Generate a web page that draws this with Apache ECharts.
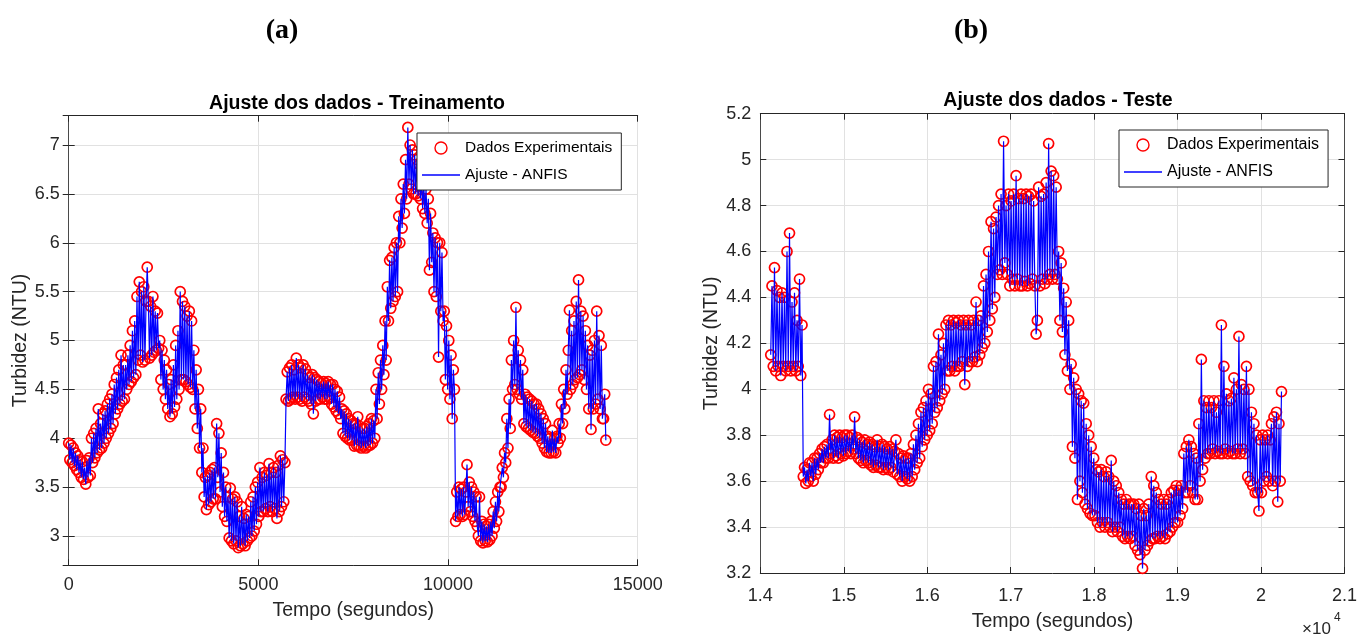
<!DOCTYPE html>
<html>
<head>
<meta charset="utf-8">
<script src="https://cdn.jsdelivr.net/npm/echarts@6/dist/echarts.min.js"></script>
<style>
html,body{margin:0;padding:0;background:#fff;}
#chart{width:1360px;height:637px;}
</style>
</head>
<body>
<div id="chart"></div>
<script>
// ---------------- DATA ----------------
// (a) Treinamento: turbidity samples (NTU), one every TRAIN_STEP seconds from TRAIN_T0
const TRAIN_T0 = 0;
const TRAIN_STEP = 30;
const trainTurb = [
  /*    0 */ 3.95, 3.78, 3.93, 3.75, 3.90, 3.72, 3.85, 3.68, 3.82, 3.65,
  /*  300 */ 3.78, 3.60, 3.76, 3.58, 3.70, 3.53, 3.77, 3.60, 3.80, 3.62,
  /*  600 */ 4.00, 3.75, 4.05, 3.80, 4.10, 3.85, 4.30, 3.88, 4.15, 3.90,
  /*  900 */ 4.25, 3.95, 4.28, 4.00, 4.35, 4.05, 4.40, 4.10, 4.45, 4.15,
  /* 1200 */ 4.55, 4.25, 4.62, 4.30, 4.70, 4.35, 4.85, 4.38, 4.75, 4.40,
  /* 1500 */ 4.75, 4.50, 4.85, 4.55, 4.95, 4.58, 5.10, 4.62, 5.20, 4.65,
  /* 1800 */ 5.45, 4.80, 5.60, 4.85, 5.50, 4.78, 5.55, 4.80, 5.40, 5.75,
  /* 2100 */ 5.40, 4.82, 5.35, 4.85, 5.45, 4.88, 5.30, 4.90, 5.28, 4.92,
  /* 2400 */ 5.00, 4.60, 4.90, 4.50, 4.80, 4.40, 4.70, 4.30, 4.55, 4.22,
  /* 2700 */ 4.60, 4.25, 4.75, 4.32, 4.95, 4.40, 5.10, 4.50, 5.50, 4.60,
  /* 3000 */ 5.40, 4.60, 5.35, 4.58, 5.25, 4.55, 5.30, 4.52, 5.20, 4.50,
  /* 3300 */ 4.90, 4.30, 4.70, 4.10, 4.50, 3.90, 4.30, 3.65, 3.90, 3.40,
  /* 3600 */ 3.60, 3.27, 3.62, 3.32, 3.65, 3.35, 3.68, 3.38, 3.70, 3.38,
  /* 3900 */ 4.15, 3.60, 4.05, 3.45, 3.85, 3.30, 3.65, 3.20, 3.50, 3.15,
  /* 4200 */ 3.40, 2.98, 3.49, 2.95, 3.38, 2.92, 3.40, 2.95, 3.35, 2.88,
  /* 4500 */ 3.20, 2.90, 3.30, 2.92, 3.18, 2.90, 3.22, 2.95, 3.20, 2.98,
  /* 4800 */ 3.35, 3.00, 3.40, 3.05, 3.50, 3.12, 3.55, 3.20, 3.70, 3.25,
  /* 5100 */ 3.60, 3.25, 3.65, 3.28, 3.62, 3.25, 3.74, 3.30, 3.65, 3.25,
  /* 5400 */ 3.70, 3.28, 3.65, 3.18, 3.72, 3.25, 3.82, 3.30, 3.78, 3.35,
  /* 5700 */ 3.75, 4.40, 4.68, 4.38, 4.72, 4.40, 4.75, 4.42, 4.70, 4.40,
  /* 6000 */ 4.82, 4.42, 4.75, 4.40, 4.72, 4.38, 4.75, 4.42, 4.71, 4.40,
  /* 6300 */ 4.65, 4.38, 4.62, 4.35, 4.65, 4.25, 4.62, 4.38, 4.60, 4.40,
  /* 6600 */ 4.58, 4.40, 4.56, 4.42, 4.58, 4.40, 4.56, 4.40, 4.58, 4.42,
  /* 6900 */ 4.55, 4.35, 4.55, 4.32, 4.50, 4.28, 4.48, 4.25, 4.42, 4.20,
  /* 7200 */ 4.30, 4.05, 4.28, 4.02, 4.25, 4.00, 4.20, 3.98, 4.18, 3.98,
  /* 7500 */ 4.15, 3.92, 4.15, 3.93, 4.22, 3.92, 4.12, 3.90, 4.10, 3.92,
  /* 7800 */ 4.10, 3.90, 4.12, 3.92, 4.15, 3.93, 4.20, 3.95, 4.18, 4.00,
  /* 8100 */ 4.50, 4.20, 4.67, 4.35, 4.80, 4.50, 4.95, 4.65, 5.20, 4.80,
  /* 8400 */ 5.55, 5.20, 5.82, 5.33, 5.85, 5.40, 5.95, 5.45, 6.00, 5.50,
  /* 8700 */ 6.27, 6.00, 6.45, 6.15, 6.60, 6.30, 6.85, 6.45, 7.18, 6.60,
  /* 9000 */ 7.00, 6.55, 6.95, 6.50, 6.90, 6.50, 6.85, 6.48, 6.80, 6.45,
  /* 9300 */ 6.65, 6.35, 6.60, 6.30, 6.55, 6.20, 6.45, 5.72, 6.30, 5.80,
  /* 9600 */ 6.10, 5.50, 6.05, 5.45, 6.00, 4.83, 6.00, 5.30, 5.90, 5.20,
  /* 9900 */ 5.30, 4.60, 5.15, 4.50, 5.00, 4.40, 4.85, 4.20, 4.70, 4.50,
  /*10200 */ 3.15, 3.45, 3.20, 3.50, 3.22, 3.48, 3.20, 3.50, 3.22, 3.45,
  /*10500 */ 3.73, 3.30, 3.55, 3.25, 3.50, 3.20, 3.45, 3.15, 3.40, 3.10,
  /*10800 */ 3.00, 3.40, 2.95, 3.15, 2.93, 3.12, 2.95, 3.10, 2.94, 3.12,
  /*11100 */ 2.96, 3.15, 3.00, 3.25, 3.08, 3.35, 3.15, 3.45, 3.25, 3.50,
  /*11400 */ 3.50, 3.70, 3.60, 3.85, 3.75, 4.20, 3.90, 4.40, 4.10, 4.80,
  /*11700 */ 4.50, 5.00, 4.55, 5.34, 4.50, 4.90, 4.45, 4.80, 4.40, 4.70,
  /*12000 */ 4.15, 4.45, 4.12, 4.42, 4.10, 4.40, 4.08, 4.38, 4.06, 4.35,
  /*12300 */ 4.05, 4.35, 4.02, 4.30, 4.00, 4.25, 3.95, 4.20, 3.90, 4.15,
  /*12600 */ 3.86, 4.02, 3.85, 4.00, 3.85, 4.08, 3.86, 4.00, 3.85, 4.02,
  /*12900 */ 3.95, 4.15, 4.00, 4.35, 4.15, 4.50, 4.30, 4.70, 4.45, 4.90,
  /*13200 */ 5.31, 4.50, 5.10, 4.55, 5.20, 4.60, 5.40, 4.62, 5.62, 4.65,
  /*13500 */ 5.30, 4.70, 5.25, 4.60, 5.10, 4.50, 4.95, 4.30, 4.85, 4.09,
  /*13800 */ 4.90, 4.30, 5.00, 4.35, 5.30, 4.40, 5.05, 4.30, 4.95, 4.20,
  /*14100 */ 4.20, 4.45, 3.98
];
// ANFIS fit output: follows the training samples almost exactly
const trainFit = trainTurb.slice();

// (b) Teste: turbidity samples (NTU), one every TEST_STEP seconds from TEST_T0
const TEST_T0 = 14125;
const TEST_STEP = 15;
const testTurb = [
  /* 14125 */ 4.15, 4.45, 4.10, 4.53, 4.08, 4.43, 4.10, 4.40, 4.06, 4.42,
  /* 14275 */ 4.10, 4.40, 4.08, 4.60, 4.10, 4.68, 4.08, 4.38, 4.10, 4.42,
  /* 14425 */ 4.08, 4.30, 4.10, 4.48, 4.06, 4.28, 3.62, 3.66, 3.59, 3.65,
  /* 14575 */ 3.60, 3.68, 3.62, 3.68, 3.60, 3.70, 3.63, 3.70, 3.65, 3.72,
  /* 14725 */ 3.68, 3.74, 3.68, 3.75, 3.70, 3.76, 3.70, 3.89, 3.72, 3.78,
  /* 14875 */ 3.70, 3.80, 3.71, 3.79, 3.70, 3.80, 3.72, 3.79, 3.71, 3.80,
  /* 15025 */ 3.72, 3.80, 3.73, 3.79, 3.72, 3.80, 3.74, 3.88, 3.72, 3.79,
  /* 15175 */ 3.70, 3.78, 3.69, 3.77, 3.68, 3.78, 3.69, 3.76, 3.68, 3.77,
  /* 15325 */ 3.67, 3.76, 3.66, 3.75, 3.67, 3.78, 3.66, 3.75, 3.66, 3.76,
  /* 15475 */ 3.65, 3.75, 3.66, 3.74, 3.65, 3.75, 3.66, 3.74, 3.64, 3.73,
  /* 15625 */ 3.78, 3.63, 3.72, 3.62, 3.70, 3.60, 3.71, 3.62, 3.70, 3.61,
  /* 15775 */ 3.70, 3.60, 3.72, 3.62, 3.76, 3.65, 3.80, 3.68, 3.85, 3.70,
  /* 15925 */ 3.90, 3.75, 3.92, 3.78, 3.95, 3.80, 4.00, 3.82, 3.98, 3.85,
  /* 16075 */ 4.10, 3.90, 4.12, 3.92, 4.24, 3.95, 4.15, 3.98, 4.20, 4.00,
  /* 16225 */ 4.28, 4.08, 4.30, 4.08, 4.28, 4.10, 4.30, 4.08, 4.29, 4.10,
  /* 16375 */ 4.30, 4.10, 4.28, 4.12, 4.30, 4.02, 4.28, 4.10, 4.30, 4.12,
  /* 16525 */ 4.28, 4.12, 4.30, 4.14, 4.38, 4.12, 4.30, 4.15, 4.32, 4.18,
  /* 16675 */ 4.45, 4.20, 4.50, 4.25, 4.60, 4.30, 4.73, 4.35, 4.70, 4.40,
  /* 16825 */ 4.75, 4.50, 4.80, 4.52, 4.85, 4.50, 5.08, 4.55, 4.80, 4.50,
  /* 16975 */ 4.85, 4.45, 4.82, 4.48, 4.85, 4.45, 4.93, 4.48, 4.83, 4.45,
  /* 17125 */ 4.85, 4.45, 4.83, 4.47, 4.85, 4.45, 4.84, 4.46, 4.85, 4.48,
  /* 17275 */ 4.82, 4.45, 4.24, 4.30, 4.88, 4.45, 4.84, 4.48, 4.85, 4.46,
  /* 17425 */ 4.90, 4.48, 5.07, 4.50, 4.95, 4.48, 4.93, 4.50, 4.88, 4.48,
  /* 17575 */ 4.60, 4.30, 4.55, 4.25, 4.44, 4.15, 4.38, 4.08, 4.30, 4.00,
  /* 17725 */ 4.11, 3.75, 4.05, 3.70, 4.00, 3.52, 3.98, 3.60, 3.95, 3.55,
  /* 17875 */ 3.94, 3.50, 3.85, 3.48, 3.80, 3.46, 3.75, 3.45, 3.70, 3.45,
  /* 18025 */ 3.65, 3.42, 3.64, 3.40, 3.65, 3.42, 3.62, 3.40, 3.64, 3.42,
  /* 18175 */ 3.62, 3.40, 3.69, 3.38, 3.60, 3.40, 3.58, 3.38, 3.55, 3.40,
  /* 18325 */ 3.52, 3.36, 3.50, 3.35, 3.52, 3.36, 3.50, 3.35, 3.50, 3.36,
  /* 18475 */ 3.50, 3.32, 3.48, 3.30, 3.50, 3.28, 3.45, 3.22, 3.48, 3.30,
  /* 18625 */ 3.45, 3.32, 3.50, 3.34, 3.62, 3.35, 3.58, 3.35, 3.55, 3.36,
  /* 18775 */ 3.52, 3.35, 3.50, 3.36, 3.52, 3.35, 3.50, 3.37, 3.52, 3.38,
  /* 18925 */ 3.55, 3.40, 3.56, 3.42, 3.58, 3.42, 3.56, 3.45, 3.58, 3.48,
  /* 19075 */ 3.72, 3.55, 3.75, 3.55, 3.78, 3.58, 3.75, 3.55, 3.72, 3.52,
  /* 19225 */ 3.70, 3.52, 3.85, 3.60, 4.13, 3.65, 3.95, 3.70, 3.92, 3.72,
  /* 19375 */ 3.95, 3.72, 3.92, 3.74, 3.95, 3.72, 3.90, 3.73, 3.95, 3.72,
  /* 19525 */ 4.28, 3.72, 4.10, 3.74, 3.98, 3.72, 3.95, 3.73, 3.96, 3.72,
  /* 19675 */ 4.05, 3.72, 4.00, 3.74, 4.23, 3.72, 4.02, 3.74, 4.00, 3.72,
  /* 19825 */ 4.10, 3.62, 4.00, 3.60, 3.90, 3.58, 3.85, 3.55, 3.80, 3.55,
  /* 19975 */ 3.47, 3.78, 3.55, 3.80, 3.60, 3.78, 3.62, 3.80, 3.60, 3.78,
  /* 20125 */ 3.85, 3.58, 3.88, 3.60, 3.90, 3.51, 3.85, 3.60, 3.99
];
// ANFIS fit output on the test set
const testFit = testTurb.slice();

// Axis ranges and tick steps
const trainX = { min: 0, max: 15000, interval: 5000 };
const trainY = { min: 2.7, max: 7.3, splitNumber: 9 };
const testX = { min: 14000, max: 21000, interval: 1000 };
const testY = { min: 3.2, max: 5.2, interval: 0.2 };

const SERIES_DATA = 'Dados Experimentais';
const SERIES_FIT = 'Ajuste - ANFIS';
const TITLE_A = 'Ajuste dos dados - Treinamento';
const TITLE_B = 'Ajuste dos dados - Teste';
const X_NAME = 'Tempo (segundos)';
const Y_NAME = 'Turbidez (NTU)';

// ---------------- CHART ----------------
const FONT = '"Liberation Sans", Arial, Helvetica, sans-serif';
const SERIF = '"Liberation Serif", "Times New Roman", serif';
const AXC = '#262626';
const GRIDC = '#e1e1e1';

function pairs(t0, step, vals) {
  return vals.map((v, i) => [t0 + i * step, v]);
}

const grids = [
  { left: 68.7, top: 115.7, width: 569, height: 449.6 },
  { left: 760.3, top: 113.7, width: 587.4, height: 464.3 }
];

function mainX(gi, ax, fmt, nameGap, margin) {
  return {
    type: 'value', gridIndex: gi, position: 'bottom',
    min: ax.min, max: ax.max, interval: ax.interval,
    name: X_NAME, nameLocation: 'middle', nameGap: nameGap,
    nameTextStyle: { fontFamily: FONT, fontSize: 19.5, color: AXC },
    axisLine: { show: true, lineStyle: { color: AXC, width: 1 } },
    axisTick: { show: true, inside: true, length: 6, lineStyle: { color: AXC } },
    axisLabel: { fontFamily: FONT, fontSize: 18, color: AXC, margin: margin, formatter: fmt },
    splitLine: { show: true, lineStyle: { color: GRIDC, width: 1 } }
  };
}
function topX(gi, ax) {
  return {
    type: 'value', gridIndex: gi, position: 'top',
    min: ax.min, max: ax.max, interval: ax.interval,
    axisLine: { show: true, lineStyle: { color: AXC, width: 1 } },
    axisTick: { show: true, inside: true, length: 6, lineStyle: { color: AXC } },
    axisLabel: { show: false }, splitLine: { show: false }
  };
}
function mainY(gi, ax, fmt, nameGap) {
  const o = {
    type: 'value', gridIndex: gi, position: 'left',
    min: ax.min, max: ax.max,
    name: Y_NAME, nameLocation: 'middle', nameGap: nameGap, nameRotate: 90,
    nameTextStyle: { fontFamily: FONT, fontSize: 19.5, color: AXC },
    axisLine: { show: true, lineStyle: { color: '#4a4a4a', width: 1 } },
    axisTick: { show: true, inside: true, length: 6, lineStyle: { color: AXC } },
    axisLabel: { fontFamily: FONT, fontSize: 18, color: AXC, margin: 9,
      showMinLabel: ax.interval !== undefined, showMaxLabel: ax.interval !== undefined, formatter: fmt },
    splitLine: { show: true, lineStyle: { color: GRIDC, width: 1 } }
  };
  if (ax.interval !== undefined) o.interval = ax.interval; else o.splitNumber = ax.splitNumber;
  return o;
}
function rightY(gi, ax) {
  const o = {
    type: 'value', gridIndex: gi, position: 'right',
    min: ax.min, max: ax.max,
    axisLine: { show: true, lineStyle: { color: '#4a4a4a', width: 1 } },
    axisTick: { show: true, inside: true, length: 6, lineStyle: { color: AXC } },
    axisLabel: { show: false }, splitLine: { show: false }
  };
  if (ax.interval !== undefined) o.interval = ax.interval; else o.splitNumber = ax.splitNumber;
  return o;
}

const fmtPlain = v => String(+v.toFixed(2));
const fmtE4 = v => String(+(v / 10000).toFixed(1));

function dataSeries(xi, yi, d) {
  return {
    name: SERIES_DATA, type: 'scatter', xAxisIndex: xi, yAxisIndex: yi,
    data: d, symbol: 'circle', symbolSize: 10,
    itemStyle: { color: 'rgba(255,255,255,0)', borderColor: '#ff0000', borderWidth: 1.7, opacity: 1 },
    emphasis: { disabled: true }, silent: true, z: 2
  };
}
function fitSeries(xi, yi, d) {
  return {
    name: SERIES_FIT, type: 'line', xAxisIndex: xi, yAxisIndex: yi,
    data: d, showSymbol: false, symbol: 'none',
    lineStyle: { color: '#0000ff', width: 1.2 },
    itemStyle: { color: '#0000ff' },
    emphasis: { disabled: true }, silent: true, z: 3
  };
}

function legendAt(left, top, fs) {
  return {
    orient: 'vertical', left: left, top: top,
    padding: [7, 9, 7, 5], itemGap: 11, itemWidth: 38, itemHeight: 12,
    backgroundColor: '#ffffff', borderColor: AXC, borderWidth: 1, borderRadius: 0,
    selectedMode: false,
    textStyle: { fontFamily: FONT, fontSize: fs, color: '#000', lineHeight: 12 },
    data: [
      { name: SERIES_DATA, icon: 'circle',
        itemStyle: { color: 'rgba(255,255,255,0)', borderColor: '#ff0000', borderWidth: 1.4 } },
      { name: SERIES_FIT, icon: 'path://M0,0 L38,0 L38,1.7 L0,1.7 Z',
        itemStyle: { color: '#0000ff', borderWidth: 0 } }
    ]
  };
}

const chart = echarts.init(document.getElementById('chart'), null, { renderer: 'canvas' });
chart.setOption({
  animation: false,
  backgroundColor: '#ffffff',
  title: [
    { text: '(a)', left: 277, top: 12, textAlign: 'center',
      textStyle: { fontFamily: SERIF, fontWeight: 'bold', fontSize: 28, color: '#000' } },
    { text: '(b)', left: 966, top: 12, textAlign: 'center',
      textStyle: { fontFamily: SERIF, fontWeight: 'bold', fontSize: 28, color: '#000' } },
    { text: TITLE_A, left: 352, top: 89, textAlign: 'center',
      textStyle: { fontFamily: FONT, fontWeight: 'bold', fontSize: 19.5, color: '#000' } },
    { text: TITLE_B, left: 1053, top: 86, textAlign: 'center',
      textStyle: { fontFamily: FONT, fontWeight: 'bold', fontSize: 19.5, color: '#000' } }
  ],
  grid: grids,
  xAxis: [
    mainX(0, trainX, fmtPlain, 35, 11),
    topX(0, trainX),
    mainX(1, testX, fmtE4, 39, 14),
    topX(1, testX)
  ],
  yAxis: [
    mainY(0, trainY, fmtPlain, 38.5),
    rightY(0, trainY),
    mainY(1, testY, fmtPlain, 39),
    rightY(1, testY)
  ],
  legend: [legendAt(417, 133, 15.5), legendAt(1119, 130, 16)],
  graphic: [
    { type: 'text', left: 1302, top: 621, silent: true,
      style: { text: '\u00d710', fontFamily: FONT, fontSize: 17, fill: AXC } },
    { type: 'text', left: 1334, top: 612, silent: true,
      style: { text: '4', fontFamily: FONT, fontSize: 12, fill: AXC } }
  ],
  series: [
    dataSeries(0, 0, pairs(TRAIN_T0, TRAIN_STEP, trainTurb)),
    fitSeries(0, 0, pairs(TRAIN_T0, TRAIN_STEP, trainFit)),
    dataSeries(2, 2, pairs(TEST_T0, TEST_STEP, testTurb)),
    fitSeries(2, 2, pairs(TEST_T0, TEST_STEP, testFit))
  ]
});
</script>
</body>
</html>
